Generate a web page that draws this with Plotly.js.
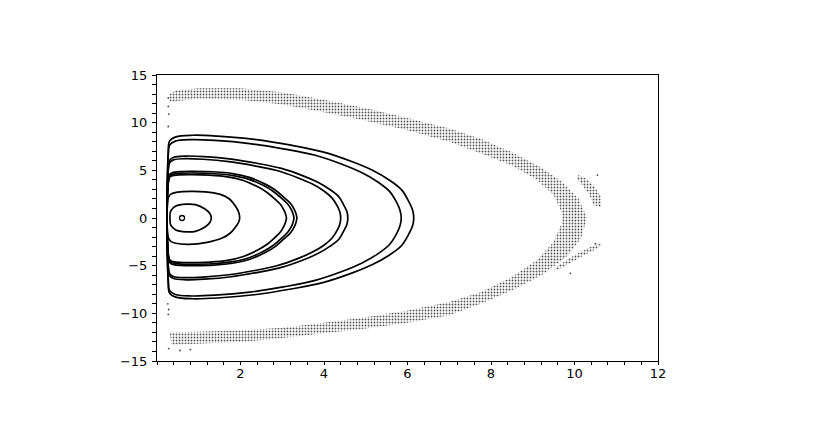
<!DOCTYPE html>
<html>
<head>
<meta charset="utf-8">
<script src="https://cdn.plot.ly/plotly-3.0.1.min.js"></script>
<style>
  html, body { margin: 0; padding: 0; background: #fff; }
  #chart { width: 817px; height: 436px; }
</style>
</head>
<body>
<div id="chart"></div>
<script>
// closed orbits (x, y)
let orbitA_x = [0.24,0.25,0.27,0.30,0.45,0.86,1.45,2.33,3.21,3.97,4.68,5.15,5.56,5.86,6.03,6.12,6.15,6.12,6.03,5.86,5.56,5.15,4.68,3.97,3.21,2.33,1.45,0.86,0.45,0.30,0.27,0.25,0.24];
let orbitA_y = [0,4.34,6.94,8.07,8.51,8.68,8.59,8.25,7.64,6.94,5.90,5.03,3.99,2.95,1.74,0.87,0,-0.85,-1.69,-2.88,-3.90,-4.91,-5.76,-6.78,-7.45,-8.05,-8.39,-8.47,-8.30,-7.88,-6.78,-4.24,0];
let orbitB_x = [0.24,0.25,0.27,0.30,0.44,0.83,1.39,2.22,3.06,3.79,4.46,4.90,5.29,5.57,5.74,5.82,5.85,5.82,5.74,5.57,5.29,4.90,4.46,3.79,3.06,2.22,1.39,0.83,0.44,0.30,0.27,0.25,0.24];
let orbitB_y = [0,4.11,6.58,7.64,8.06,8.22,8.14,7.81,7.23,6.58,5.59,4.77,3.78,2.79,1.64,0.82,0,-0.82,-1.64,-2.78,-3.76,-4.74,-5.56,-6.54,-7.20,-7.77,-8.10,-8.18,-8.02,-7.61,-6.54,-4.09,0];
let orbitC_x = [0.24,0.25,0.27,0.30,0.40,0.70,1.13,1.78,2.42,2.98,3.50,3.84,4.14,4.36,4.48,4.55,4.57,4.55,4.48,4.36,4.14,3.84,3.50,2.98,2.42,1.78,1.13,0.70,0.40,0.30,0.27,0.25,0.24];
let orbitC_y = [0,3.25,5.2,6.05,6.37,6.5,6.44,6.18,5.72,5.2,4.42,3.77,2.99,2.21,1.3,0.65,0,-0.65,-1.3,-2.2,-2.98,-3.76,-4.41,-5.18,-5.70,-6.16,-6.42,-6.48,-6.35,-6.03,-5.18,-3.24,0];
let orbitD_x = [0.24,0.25,0.27,0.30,0.39,0.68,1.10,1.72,2.34,2.87,3.37,3.70,3.99,4.19,4.32,4.38,4.40,4.38,4.32,4.19,3.99,3.70,3.37,2.87,2.34,1.72,1.10,0.68,0.39,0.30,0.27,0.25,0.24];
let orbitD_y = [0,3.11,4.98,5.78,6.10,6.22,6.16,5.91,5.47,4.98,4.23,3.61,2.86,2.11,1.24,0.62,0,-0.63,-1.25,-2.13,-2.88,-3.63,-4.26,-5.01,-5.51,-5.95,-6.20,-6.26,-6.13,-5.82,-5.01,-3.13,0];
let orbitE_x = [0.24,0.25,0.27,0.30,0.36,0.58,0.89,1.35,1.81,2.21,2.58,2.83,3.04,3.20,3.29,3.33,3.35,3.33,3.29,3.20,3.04,2.83,2.58,2.21,1.81,1.35,0.89,0.58,0.36,0.30,0.27,0.25,0.24];
let orbitE_y = [0,2.45,3.92,4.56,4.75,4.88,4.9,4.85,4.66,4.26,3.58,2.94,2.16,1.52,0.88,0.45,0,-0.46,-0.9,-1.55,-2.2,-3.0,-3.65,-4.35,-4.75,-4.95,-5.0,-4.98,-4.85,-4.65,-4.0,-2.5,0];
let orbitF_x = [0.24,0.25,0.27,0.30,0.36,0.57,0.87,1.32,1.78,2.17,2.53,2.77,2.98,3.13,3.22,3.26,3.28,3.26,3.22,3.13,2.98,2.77,2.53,2.17,1.78,1.32,0.87,0.57,0.36,0.30,0.27,0.25,0.24];
let orbitF_y = [0,2.36,3.78,4.39,4.58,4.70,4.72,4.67,4.48,4.11,3.45,2.83,2.08,1.46,0.85,0.43,0,-0.44,-0.87,-1.50,-2.13,-2.91,-3.54,-4.22,-4.61,-4.80,-4.85,-4.83,-4.70,-4.51,-3.88,-2.43,0];
let orbitG_x = [0.24,0.25,0.27,0.30,0.35,0.55,0.84,1.26,1.69,2.05,2.39,2.62,2.82,2.96,3.04,3.08,3.10,3.08,3.04,2.96,2.82,2.62,2.39,2.05,1.69,1.26,0.84,0.55,0.35,0.30,0.27,0.25,0.24];
let orbitG_y = [0,2.28,3.64,4.23,4.41,4.53,4.55,4.50,4.32,3.96,3.32,2.73,2.0,1.41,0.82,0.41,0,-0.42,-0.84,-1.45,-2.06,-2.81,-3.42,-4.07,-4.45,-4.63,-4.68,-4.66,-4.54,-4.35,-3.74,-2.34,0];
let orbitH_x = [0.24,0.25,0.27,0.33,0.5,0.8,1.16,1.5,1.72,1.9,1.96,1.98,1.96,1.92,1.75,1.56,1.2,0.76,0.45,0.33,0.27,0.25,0.24];
let orbitH_y = [0,1.4,2.1,2.5,2.72,2.8,2.75,2.5,2.05,1.1,0.55,0,-0.4,-0.7,-1.6,-2.1,-2.55,-2.76,-2.65,-2.45,-2.05,-1.35,0];
let orbitI_x = [0.31,0.33,0.45,0.7,0.92,1.15,1.27,1.3,1.27,1.15,0.92,0.7,0.45,0.33,0.31];
let orbitI_y = [0,0.75,1.25,1.45,1.4,0.95,0.45,0,-0.45,-0.95,-1.4,-1.45,-1.25,-0.75,0];

// fixed point
let centre_x = [0.6];
let centre_y = [0];

// chaotic sea: outline of the dotted crescent (outer edge, then inner edge back)
let seaOuter_x = [0.3,0.45,1.0,2.0,3.0,4.0,5.0,6.0,7.0,7.75,8.5,9.2,9.7,10.1,10.3,10.15,9.8,9.25,8.5,7.75,7.0,6.0,5.0,4.0,3.0,2.0,1.0,0.35];
let seaOuter_y = [13.0,13.4,13.6,13.6,13.2,12.4,11.5,10.5,9.4,8.3,6.9,5.3,3.8,2.0,0.0,-2.2,-4.1,-5.9,-7.6,-9.0,-10.2,-11.0,-11.6,-12.1,-12.6,-13.0,-13.2,-13.3];
let seaInner_x = [0.3,1.0,2.0,3.0,4.0,5.0,6.0,7.0,7.75,8.5,9.1,9.5,9.7,9.7,9.5,9.1,8.5,7.75,7.0,6.0,5.0,4.0,3.0,2.0,1.0,0.3];
let seaInner_y = [-12.0,-11.95,-11.8,-11.5,-11.0,-10.4,-9.7,-8.8,-7.8,-6.2,-4.4,-2.5,-0.5,0.5,2.4,4.0,5.5,6.8,8.0,9.2,10.2,11.1,11.9,12.4,12.5,12.2];
// small outlying wings near the tip
let wingUp_x = [10.1,10.3,10.5,10.64,10.64,10.45,10.35,10.2,10.05];
let wingUp_y = [4.5,4.1,3.2,2.2,1.1,1.4,2.5,3.4,4.2];
let wingDown_x = [10.66,10.5,10.15,9.75,9.5,9.6,10.0,10.35,10.6];
let wingDown_y = [-2.8,-3.3,-4.1,-5.1,-5.6,-5.0,-3.9,-3.1,-2.7];
// stray points
let stray_x = [0.27,0.28,0.27,0.26,0.28,0.27,0.28,0.55,0.8,0.27,10.55,10.5,9.9];
let stray_y = [11.7,10.9,9.6,-9.0,-9.6,-10.1,-13.7,-13.9,-13.8,12.6,4.5,-2.7,-5.8];

let orbits = [
  [orbitA_x, orbitA_y], [orbitB_x, orbitB_y], [orbitC_x, orbitC_y],
  [orbitD_x, orbitD_y], [orbitE_x, orbitE_y], [orbitF_x, orbitF_y],
  [orbitG_x, orbitG_y], [orbitH_x, orbitH_y], [orbitI_x, orbitI_y]
];

let dotted = {shape: '.', size: 3, solidity: 0.3, fgcolor: '#555', bgcolor: 'rgba(0,0,0,0)'};

let traces = [];
let patches = [[seaOuter_x.concat(seaInner_x), seaOuter_y.concat(seaInner_y)],
               [wingUp_x, wingUp_y], [wingDown_x, wingDown_y]];
for (let p of patches) {
  traces.push({
    x: p[0], y: p[1], mode: 'lines', fill: 'toself', fillcolor: 'rgba(0,0,0,0)',
    fillpattern: dotted, line: {width: 0}, hoverinfo: 'skip'
  });
}
traces.push({
  x: stray_x, y: stray_y, mode: 'markers',
  marker: {size: 1.8, color: '#444'}
});
for (let o of orbits) {
  traces.push({
    x: o[0], y: o[1], mode: 'lines',
    line: {color: '#000', width: 1.7, shape: 'spline', smoothing: 1}
  });
}
traces.push({
  x: centre_x, y: centre_y, mode: 'markers',
  marker: {symbol: 'circle-open', size: 5, color: '#000', line: {width: 1.3}}
});

var layout = {
  width: 817,
  height: 436,
  showlegend: false,
  paper_bgcolor: '#fff',
  plot_bgcolor: '#fff',
  font: {family: 'DejaVu Sans, Liberation Sans, sans-serif', size: 13, color: '#000'},
  margin: {l: 157, r: 159, t: 75, b: 75, pad: 0},
  xaxis: {
    range: [0, 12],
    tickvals: [2, 4, 6, 8, 10, 12],
    ticks: 'outside', ticklen: 3, tickcolor: '#000',
    ticklabelstandoff: -3,
    minor: {dtick: 0.4, tick0: 0, ticks: 'outside', ticklen: 3, tickcolor: '#000'},
    showgrid: false, zeroline: false,
    showline: true, linecolor: '#000', linewidth: 1, mirror: true
  },
  yaxis: {
    range: [-15, 15],
    tickvals: [-15, -10, -5, 0, 5, 10, 15],
    ticks: 'outside', ticklen: 4, tickcolor: '#000',
    ticklabelstandoff: 2,
    minor: {dtick: 1, tick0: 0, ticks: 'outside', ticklen: 4, tickcolor: '#000'},
    showgrid: false, zeroline: false,
    showline: true, linecolor: '#000', linewidth: 1, mirror: true
  }
};

Plotly.newPlot('chart', traces, layout, {staticPlot: true});
</script>
</body>
</html>
